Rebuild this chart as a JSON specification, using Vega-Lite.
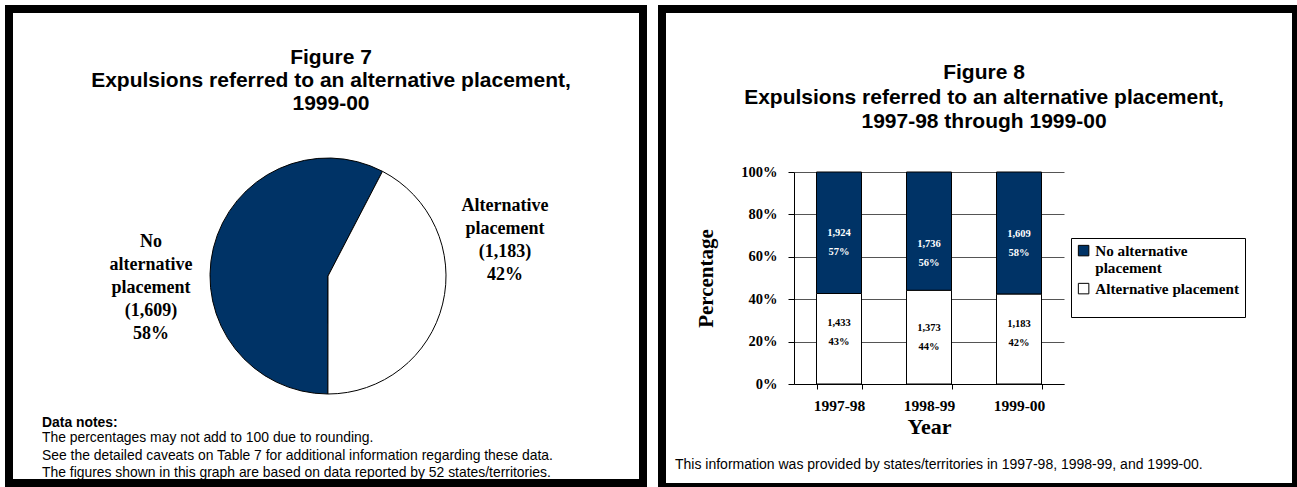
{
  "$schema": "https://vega.github.io/schema/vega-lite/v6.json",
  "background": "white",
  "padding": 5,
  "spacing": 11,
  "config": {"font": "Liberation Sans"},
  "resolve": {"scale": {"color": "independent"}, "legend": {"color": "independent"}},
  "hconcat": [
    {
      "width": 634,
      "height": 474,
      "view": {"stroke": "black", "strokeWidth": 8, "fill": "white"},
      "title": {
        "text": ["Figure 7", "Expulsions referred to an alternative placement,", "1999-00"],
        "font": "Liberation Sans", "fontSize": 21, "fontWeight": "bold", "lineHeight": 23,
        "offset": -105, "dx": 5, "color": "black", "anchor": "middle"
      },
      "data": {"values": [
        {"category": "No alternative placement", "count": 1609, "label": "No\nalternative\nplacement\n(1,609)\n58%"},
        {"category": "Alternative placement", "count": 1183, "label": "Alternative\nplacement\n(1,183)\n42%"}
      ]},
      "resolve": {"scale": {"theta": "independent"}},
      "layer": [
        {
          "mark": {"type": "arc", "radius": 118, "stroke": "black", "strokeWidth": 1, "yOffset": 30, "xOffset": 2},
          "encoding": {
            "theta": {"field": "count", "type": "quantitative", "stack": true, "scale": {"range": [0.48, 6.763]}},
            "color": {"field": "category", "type": "nominal", "scale": {"domain": ["No alternative placement", "Alternative placement"], "range": ["#003366", "#ffffff"]}, "legend": null},
            "order": {"field": "category", "sort": "ascending"}
          }
        },
        {
          "mark": {"type": "text", "radius": 178, "yOffset": 30, "xOffset": 2, "dy": -52, "font": "Liberation Serif", "fontWeight": "bold", "fontSize": 18, "lineHeight": 23, "lineBreak": "\n", "align": "center", "baseline": "middle", "color": "black"},
          "encoding": {
            "theta": {"field": "count", "type": "quantitative", "stack": true, "scale": {"range": [0.138, 6.421]}},
            "text": {"field": "label"},
            "order": {"field": "category", "sort": "ascending"}
          }
        },
        {
          "data": {"values": [{"note": "Data notes:"}]},
          "mark": {"type": "text", "align": "left", "baseline": "middle", "font": "Liberation Sans", "fontWeight": "bold", "fontSize": 13.9, "color": "black", "dx": -284, "dy": 177},
          "encoding": {"text": {"field": "note"}}
        },
        {
          "data": {"values": [{"note": "The percentages may not add to 100 due to rounding.\nSee the detailed caveats on Table 7 for additional information regarding these data.\nThe figures shown in this graph are based on data reported by 52 states/territories."}]},
          "mark": {"type": "text", "align": "left", "baseline": "middle", "font": "Liberation Sans", "fontSize": 13.9, "lineHeight": 17.5, "lineBreak": "\n", "color": "black", "dx": -284, "dy": 192},
          "encoding": {"text": {"field": "note"}}
        }
      ]
    },
    {
      "width": 634,
      "height": 478,
      "view": {"stroke": "black", "strokeWidth": 8, "fill": "white"},
      "title": {
        "text": ["Figure 8", "Expulsions referred to an alternative placement,", "1997-98 through 1999-00"],
        "font": "Liberation Sans", "fontSize": 21, "fontWeight": "bold", "lineHeight": 24.5,
        "offset": -123, "dx": 5, "color": "black", "anchor": "middle"
      },
      "data": {"values": [
        {"year": "1997-98", "category": "No alternative placement", "count": 1924, "pct": 0.57},
        {"year": "1997-98", "category": "Alternative placement", "count": 1433, "pct": 0.43},
        {"year": "1998-99", "category": "No alternative placement", "count": 1736, "pct": 0.56},
        {"year": "1998-99", "category": "Alternative placement", "count": 1373, "pct": 0.44},
        {"year": "1999-00", "category": "No alternative placement", "count": 1609, "pct": 0.58},
        {"year": "1999-00", "category": "Alternative placement", "count": 1183, "pct": 0.42}
      ]},
      "layer": [
        {
          "mark": {"type": "bar", "stroke": "black", "strokeWidth": 1},
          "encoding": {
            "x": {"field": "year", "type": "nominal", "scale": {"range": [132, 402], "paddingInner": 0.5, "paddingOuter": 0.25},
              "axis": {"orient": "bottom", "offset": -103, "tickBand": "extent", "tickSize": 5, "tickColor": "black", "domainColor": "black", "labelAngle": 0,
                "labelFont": "Liberation Serif", "labelFontWeight": "bold", "labelFontSize": 15.5, "labelColor": "black", "labelPadding": 9,
                "title": "Year", "titleFont": "Liberation Serif", "titleFontWeight": "bold", "titleFontSize": 22, "titleColor": "black", "titlePadding": 3}},
            "y": {"field": "count", "type": "quantitative", "stack": "normalize", "scale": {"range": [375, 163], "domain": [0, 1]},
              "axis": {"orient": "left", "offset": -132, "values": [0, 0.2, 0.4, 0.6, 0.8, 1], "format": ".0%", "tickSize": 6, "tickColor": "black", "domainColor": "black",
                "gridColor": "#555555", "gridOpacity": 1,
                "labelFont": "Liberation Serif", "labelFontWeight": "bold", "labelFontSize": 14.5, "labelColor": "black", "labelPadding": 11,
                "title": "Percentage", "titleFont": "Liberation Serif", "titleFontWeight": "bold", "titleFontSize": 21, "titleColor": "black", "titlePadding": 24}},
            "color": {"field": "category", "type": "nominal", "scale": {"domain": ["No alternative placement", "Alternative placement"], "range": ["#003366", "#ffffff"]},
              "legend": {"orient": "none", "legendX": 409, "legendY": 229, "title": " ", "titleOrient": "bottom", "titleFontSize": 8, "titlePadding": 7,
                "padding": 5, "strokeColor": "black", "fillColor": "white",
                "labelFont": "Liberation Serif", "labelFontWeight": "bold", "labelFontSize": 15.2, "labelColor": "black", "labelLimit": 300,
                "symbolType": "square", "symbolSize": 110, "symbolStrokeColor": "black", "symbolStrokeWidth": 1, "symbolOpacity": 1, "rowPadding": 5, "labelOffset": 4,
                "labelExpr": "datum.label == 'No alternative placement' ? ['No alternative', 'placement'] : datum.label"}},
            "order": {"field": "category", "sort": "ascending"}
          }
        },
        {
          "mark": {"type": "text", "dy": {"expr": "datum.category == 'No alternative placement' ? (datum.year == '1998-99' ? 12.5 : 0.5) : (datum.year == '1998-99' ? -9.5 : -15.5)"}, "font": "Liberation Serif", "fontWeight": "bold", "fontSize": 10.5, "baseline": "middle"},
          "encoding": {
            "x": {"field": "year", "type": "nominal", "scale": {"range": [132, 402], "paddingInner": 0.5, "paddingOuter": 0.25},
              "axis": {"orient": "bottom", "offset": -103, "tickBand": "extent", "tickSize": 5, "tickColor": "black", "domainColor": "black", "labelAngle": 0,
                "labelFont": "Liberation Serif", "labelFontWeight": "bold", "labelFontSize": 15.5, "labelColor": "black", "labelPadding": 9,
                "title": "Year", "titleFont": "Liberation Serif", "titleFontWeight": "bold", "titleFontSize": 22, "titleColor": "black", "titlePadding": 3}},
            "y": {"field": "count", "type": "quantitative", "stack": "normalize", "bandPosition": 0.5, "scale": {"range": [375, 163], "domain": [0, 1]},
              "axis": {"orient": "left", "offset": -132, "values": [0, 0.2, 0.4, 0.6, 0.8, 1], "format": ".0%", "tickSize": 6, "tickColor": "black", "domainColor": "black",
                "gridColor": "#555555", "gridOpacity": 1,
                "labelFont": "Liberation Serif", "labelFontWeight": "bold", "labelFontSize": 14.5, "labelColor": "black", "labelPadding": 11,
                "title": "Percentage", "titleFont": "Liberation Serif", "titleFontWeight": "bold", "titleFontSize": 21, "titleColor": "black", "titlePadding": 24}},
            "detail": {"field": "category"},
            "order": {"field": "category", "sort": "ascending"},
            "text": {"field": "count", "type": "quantitative", "format": ","},
            "color": {"condition": {"test": "datum.category == 'No alternative placement'", "value": "white"}, "value": "black"}
          }
        },
        {
          "mark": {"type": "text", "dy": {"expr": "datum.category == 'No alternative placement' ? (datum.year == '1998-99' ? 32 : 19.5) : (datum.year == '1998-99' ? 10 : 3.5)"}, "font": "Liberation Serif", "fontWeight": "bold", "fontSize": 10.5, "baseline": "middle"},
          "encoding": {
            "x": {"field": "year", "type": "nominal", "scale": {"range": [132, 402], "paddingInner": 0.5, "paddingOuter": 0.25},
              "axis": {"orient": "bottom", "offset": -103, "tickBand": "extent", "tickSize": 5, "tickColor": "black", "domainColor": "black", "labelAngle": 0,
                "labelFont": "Liberation Serif", "labelFontWeight": "bold", "labelFontSize": 15.5, "labelColor": "black", "labelPadding": 9,
                "title": "Year", "titleFont": "Liberation Serif", "titleFontWeight": "bold", "titleFontSize": 22, "titleColor": "black", "titlePadding": 3}},
            "y": {"field": "count", "type": "quantitative", "stack": "normalize", "bandPosition": 0.5, "scale": {"range": [375, 163], "domain": [0, 1]},
              "axis": {"orient": "left", "offset": -132, "values": [0, 0.2, 0.4, 0.6, 0.8, 1], "format": ".0%", "tickSize": 6, "tickColor": "black", "domainColor": "black",
                "gridColor": "#555555", "gridOpacity": 1,
                "labelFont": "Liberation Serif", "labelFontWeight": "bold", "labelFontSize": 14.5, "labelColor": "black", "labelPadding": 11,
                "title": "Percentage", "titleFont": "Liberation Serif", "titleFontWeight": "bold", "titleFontSize": 21, "titleColor": "black", "titlePadding": 24}},
            "detail": {"field": "category"},
            "order": {"field": "category", "sort": "ascending"},
            "text": {"field": "pct", "type": "quantitative", "format": ".0%"},
            "color": {"condition": {"test": "datum.category == 'No alternative placement'", "value": "white"}, "value": "black"}
          }
        },
        {
          "data": {"values": [{"note": "This information was provided by states/territories in 1997-98, 1998-99, and 1999-00."}]},
          "mark": {"type": "text", "align": "left", "baseline": "middle", "font": "Liberation Sans", "fontSize": 14, "color": "black", "dx": -304, "dy": 217},
          "encoding": {"text": {"field": "note"}}
        }
      ]
    }
  ]
}
